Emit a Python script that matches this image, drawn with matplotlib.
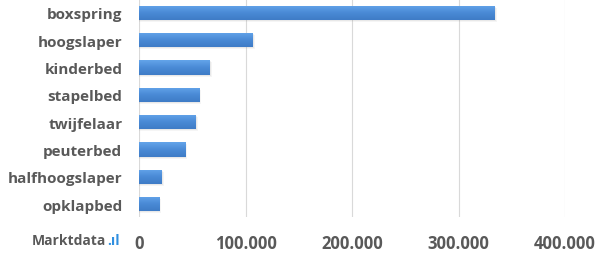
import numpy as np
import matplotlib
matplotlib.use("Agg")
import matplotlib.pyplot as plt
from matplotlib.colors import LinearSegmentedColormap

categories = ["boxspring", "hoogslaper", "kinderbed", "stapelbed",
              "twijfelaar", "peuterbed", "halfhoogslaper", "opklapbed"]
values = [334000, 107000, 66500, 56500, 53500, 43500, 21500, 19000]
xticks = [0, 100000, 200000, 300000, 400000]
xtick_labels = ["0", "100.000", "200.000", "300.000", "400.000"]

plt.rcParams["font.family"] = ["Open Sans", "DejaVu Sans"]
label_color = "#595959"

fig = plt.figure(figsize=(6.05, 2.55), dpi=100)
ax = fig.add_axes([139 / 605, 1 - 218 / 255, (565 - 139) / 605, 218 / 255])

y = np.arange(len(categories))
h = 0.53

# soft shadow under each bar
for yi, v in zip(y, values):
    for k, a in [(1, 0.10), (2, 0.07)]:
        ax.barh(yi + 0.035 * k, v + 900 * k, height=h, color="#7f7f7f",
                alpha=a, zorder=2, linewidth=0)

bars = ax.barh(y, values, height=h, color="#4a8ad6", zorder=3, linewidth=0)

# vertical gradient fill
cmap = LinearSegmentedColormap.from_list("blu", ["#63a4ea", "#4a8ad6", "#3f7cc6"])
grad = np.linspace(0, 1, 50).reshape(-1, 1)
for b in bars:
    x0, y0 = b.get_x(), b.get_y()
    im = ax.imshow(grad, cmap=cmap, aspect="auto", zorder=4,
                   extent=(x0, x0 + b.get_width(), y0 + b.get_height(), y0),
                   interpolation="bicubic")
    im.set_clip_path(b)

ax.set_xlim(0, 400000)
ax.set_ylim(len(categories) - 0.53, -0.51)
ax.set_xticks(xticks)
ax.set_xticklabels(xtick_labels)
ax.set_yticks(y)
ax.set_yticklabels(categories)
ax.grid(axis="x", color="#d9d9d9", linewidth=0.8, zorder=0)
ax.set_axisbelow(True)
for s in ax.spines.values():
    s.set_visible(False)
ax.tick_params(axis="both", length=0, colors=label_color)
ax.tick_params(axis="y", pad=12, labelsize=11)
ax.tick_params(axis="x", pad=12, labelsize=12)
for t in ax.get_xticklabels() + ax.get_yticklabels():
    t.set_fontweight("bold")
    t.set_color(label_color)

# source logo: grey word, blue bars right after it
logo = fig.text(32 / 605, 1 - 241 / 255, "Marktdata", fontsize=10, fontweight="bold",
                color=label_color, va="center", ha="left")
bb = logo.get_window_extent(fig.canvas.get_renderer())
fig.text((bb.x1 + 1) / 605, 1 - 241 / 255, ".\u0131l", fontsize=10, fontweight="bold",
         color="#2f8fe0", va="center", ha="left")

fig.savefig("out.png", dpi=100)
